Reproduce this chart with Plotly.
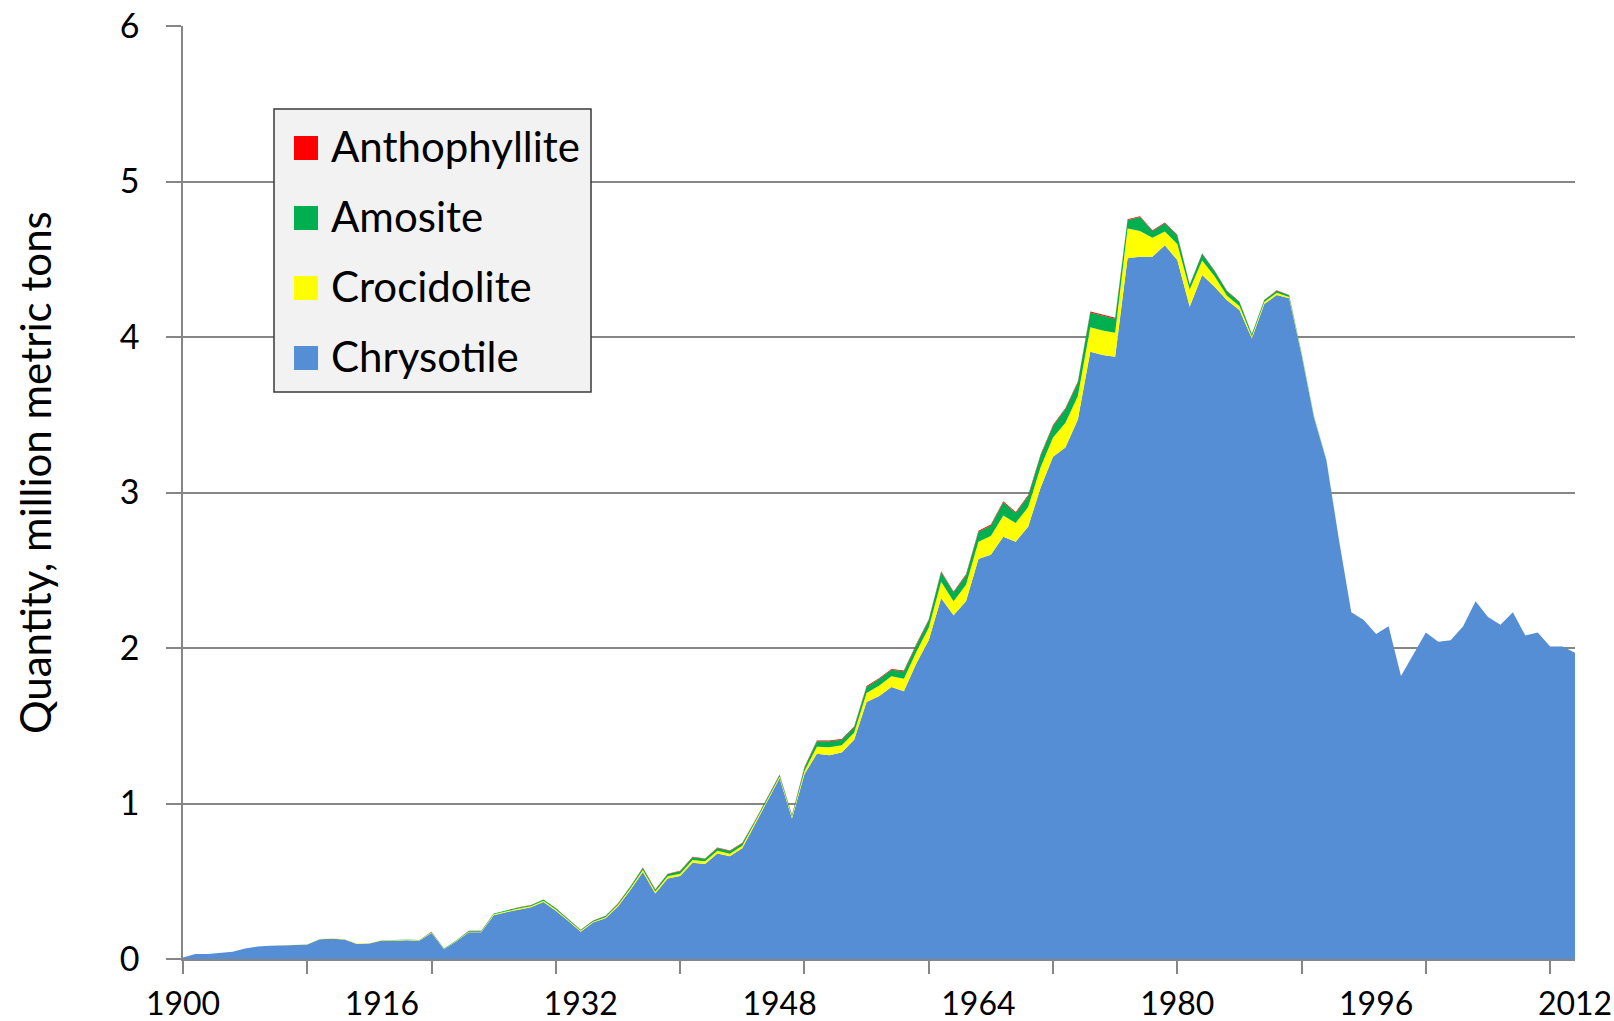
import plotly.graph_objects as go

# ---------------- data (million metric tons) ----------------
years = list(range(1900, 2013))

chrysotile = [
    0.010, 0.032, 0.032, 0.041, 0.047, 0.067, 0.080, 0.086, 0.090, 0.090,
    0.093, 0.127, 0.131, 0.125, 0.097, 0.099, 0.119, 0.117, 0.120, 0.117,
    0.168, 0.063, 0.114, 0.172, 0.172, 0.282, 0.301, 0.319, 0.332, 0.366,
    0.310, 0.244, 0.176, 0.234, 0.262, 0.338, 0.444, 0.560, 0.422, 0.518,
    0.533, 0.619, 0.611, 0.678, 0.660, 0.713, 0.862, 1.012, 1.162, 0.904,
    1.188, 1.320, 1.310, 1.328, 1.410, 1.652, 1.690, 1.750, 1.722, 1.900,
    2.050, 2.320, 2.210, 2.300, 2.573, 2.600, 2.716, 2.684, 2.780, 3.030,
    3.230, 3.290, 3.470, 3.905, 3.884, 3.873, 4.506, 4.516, 4.516, 4.590,
    4.495, 4.195, 4.398, 4.323, 4.237, 4.173, 3.990, 4.212, 4.270, 4.250,
    3.886, 3.480, 3.204, 2.700, 2.230, 2.180, 2.090, 2.140, 1.820, 1.960,
    2.100, 2.040, 2.050, 2.140, 2.300, 2.200, 2.150, 2.230, 2.080, 2.100,
    2.010, 2.010, 1.970,
]

crocidolite = [
    0, 0, 0, 0, 0, 0, 0, 0, 0, 0,
    0.002, 0.002, 0.002, 0.002, 0.002, 0.002, 0.003, 0.003, 0.003, 0.003,
    0.003, 0.002, 0.003, 0.004, 0.004, 0.005, 0.006, 0.006, 0.007, 0.008,
    0.008, 0.006, 0.005, 0.006, 0.007, 0.009, 0.011, 0.013, 0.012, 0.014,
    0.016, 0.018, 0.017, 0.018, 0.017, 0.015, 0.010, 0.010, 0.010, 0.010,
    0.020, 0.045, 0.052, 0.047, 0.045, 0.058, 0.068, 0.068, 0.080, 0.075,
    0.080, 0.106, 0.090, 0.106, 0.111, 0.120, 0.136, 0.120, 0.126, 0.133,
    0.123, 0.158, 0.150, 0.157, 0.158, 0.155, 0.192, 0.166, 0.123, 0.088,
    0.103, 0.110, 0.094, 0.067, 0.028, 0.027, 0.013, 0.013, 0.014, 0.008,
    0.006, 0.004, 0.002, 0, 0, 0, 0, 0, 0, 0,
    0, 0, 0, 0, 0, 0, 0, 0, 0, 0,
    0, 0, 0,
]

amosite = [
    0, 0, 0, 0, 0, 0, 0, 0, 0, 0,
    0, 0, 0, 0, 0, 0, 0, 0.002, 0.002, 0.002,
    0.003, 0.002, 0.003, 0.004, 0.004, 0.005, 0.006, 0.006, 0.007, 0.008,
    0.008, 0.006, 0.005, 0.006, 0.007, 0.009, 0.011, 0.013, 0.012, 0.014,
    0.015, 0.017, 0.016, 0.018, 0.017, 0.016, 0.012, 0.012, 0.012, 0.010,
    0.022, 0.035, 0.038, 0.035, 0.035, 0.040, 0.042, 0.042, 0.048, 0.045,
    0.048, 0.062, 0.058, 0.062, 0.064, 0.068, 0.086, 0.064, 0.072, 0.075,
    0.075, 0.090, 0.088, 0.096, 0.096, 0.090, 0.054, 0.090, 0.043, 0.054,
    0.054, 0.030, 0.043, 0.035, 0.030, 0.025, 0.015, 0.013, 0.014, 0.010,
    0.008, 0.006, 0.004, 0, 0, 0, 0, 0, 0, 0,
    0, 0, 0, 0, 0, 0, 0, 0, 0, 0,
    0, 0, 0,
]

anthophyllite = [
    0, 0, 0, 0, 0, 0, 0, 0, 0, 0,
    0, 0, 0, 0, 0, 0, 0, 0, 0, 0,
    0.001, 0.001, 0.001, 0.001, 0.001, 0.001, 0.001, 0.001, 0.001, 0.001,
    0.002, 0.002, 0.002, 0.002, 0.002, 0.002, 0.002, 0.002, 0.002, 0.002,
    0.003, 0.003, 0.003, 0.003, 0.003, 0.003, 0.003, 0.003, 0.003, 0.003,
    0.005, 0.005, 0.005, 0.005, 0.005, 0.005, 0.005, 0.005, 0.005, 0.005,
    0.006, 0.006, 0.006, 0.006, 0.006, 0.006, 0.006, 0.006, 0.006, 0.006,
    0.006, 0.006, 0.006, 0.006, 0.006, 0.006, 0.005, 0.005, 0.005, 0.005,
    0.005, 0.003, 0.003, 0.003, 0.003, 0.003, 0.002, 0.002, 0.002, 0.002,
    0, 0, 0, 0, 0, 0, 0, 0, 0, 0,
    0, 0, 0, 0, 0, 0, 0, 0, 0, 0,
    0, 0, 0,
]

series_names = ["Chrysotile", "Crocidolite", "Amosite", "Anthophyllite"]
series_values = [chrysotile, crocidolite, amosite, anthophyllite]
series_colors = ["#558ED5", "#FFFF00", "#00B050", "#FF0000"]

x_tick_labels = [1900, 1916, 1932, 1948, 1964, 1980, 1996, 2012]
y_title = "Quantity, million metric tons"

# ---------------- layout geometry (pixels) ----------------
W, H = 1614, 1021
L, R, T, B = 183, 39, 26, 62
PW, PH = W - L - R, H - T - B
GRID = "#868686"
FONT = "Lato, 'Open Sans', sans-serif"


def px(xp):
    return (xp - L) / PW


def py(yp):
    return (H - B - yp) / PH


fig = go.Figure()
for name, vals, col in zip(series_names, series_values, series_colors):
    fig.add_trace(go.Scatter(
        x=years, y=vals, name=name, mode="lines",
        stackgroup="one", fillcolor=col,
        line=dict(width=0, color=col), showlegend=False,
        hovertemplate="%{x}: %{y:.3f}<extra>" + name + "</extra>",
    ))

# manual legend (large square swatches, as in the original)
shapes = [dict(type="rect", xref="paper", yref="paper",
               x0=px(274), x1=px(591), y0=py(392), y1=py(109),
               fillcolor="#F2F2F2", line=dict(color="#3A3A3A", width=1.5),
               layer="above")]
annotations = []
row_centers = [148, 218, 288, 358]
for i, idx in enumerate(reversed(range(len(series_names)))):
    cy = row_centers[i]
    shapes.append(dict(type="rect", xref="paper", yref="paper",
                       x0=px(294), x1=px(318), y0=py(cy + 12), y1=py(cy - 12),
                       fillcolor=series_colors[idx], line=dict(width=0),
                       layer="above"))
    annotations.append(dict(xref="paper", yref="paper", x=px(329), y=py(cy - 2),
                            xanchor="left", yanchor="middle", showarrow=False,
                            text=series_names[idx],
                            font=dict(family=FONT, size=42, color="#000000")))

annotations.append(dict(xref="paper", yref="paper", x=px(35), y=py(473),
                        xanchor="center", yanchor="middle", showarrow=False,
                        textangle=-90, text=y_title,
                        font=dict(family=FONT, size=42, color="#000000")))

fig.update_layout(
    width=W, height=H, autosize=False,
    margin=dict(l=L, r=R, t=T, b=B, pad=0),
    paper_bgcolor="white", plot_bgcolor="white",
    font=dict(family=FONT, size=32, color="#000000"),
    showlegend=False,
    shapes=shapes, annotations=annotations,
    xaxis=dict(
        range=[1900, 2012], tickmode="array", tickvals=x_tick_labels,
        ticktext=[str(v) for v in x_tick_labels], ticks="",
        showline=True, linecolor=GRID, linewidth=1.5, showgrid=False,
        zeroline=False, tickfont=dict(size=32), ticklabelstandoff=16,
        automargin=False,
        minor=dict(tick0=1900, dtick=10, ticks="outside", ticklen=13,
                   tickcolor=GRID, tickwidth=1.5, showgrid=False),
    ),
    yaxis=dict(
        range=[0, 6], tick0=0, dtick=1, showgrid=True, gridcolor=GRID,
        gridwidth=1.5, showline=True, linecolor=GRID, linewidth=1.5,
        ticks="outside", ticklen=15, tickcolor=GRID, tickwidth=1.5,
        zeroline=False, tickfont=dict(size=34), ticklabelstandoff=20,
        automargin=False,
    ),
)

fig.write_html("out.html", config={"displayModeBar": False},
               post_script="document.body.style.margin='0';")
